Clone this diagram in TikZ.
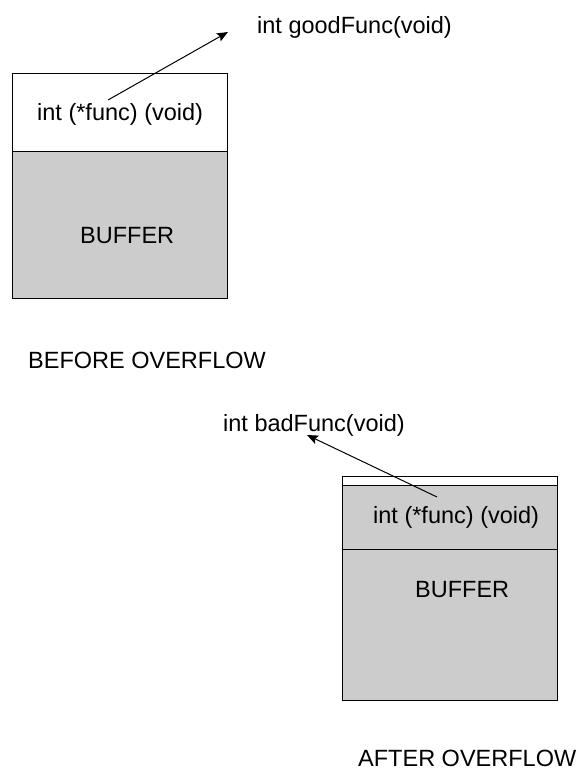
\documentclass[tikz,border=0pt]{standalone}
\usepackage{fontspec}
\setmainfont{Liberation Sans}
\usetikzlibrary{arrows.meta}
\definecolor{bufgray}{HTML}{CCCCCC}
\begin{document}
\begin{tikzpicture}[x=1pt,y=-1pt,
  cell/.style={draw=black, line width=1pt, rectangle, inner sep=0pt, anchor=north west},
  lbl/.style={anchor=base west, inner sep=0pt, font=\fontsize{23.5}{28}\selectfont},
  ptr/.style={draw=black, line width=1pt, -{Stealth[length=11pt,width=9pt,inset=2pt]}}]
\useasboundingbox (0,0) rectangle (580,771);
% before overflow
\node[cell, fill=white, minimum width=215pt, minimum height=78pt] (topptr) at (12,73) {};
\node[cell, fill=bufgray, minimum width=215pt, minimum height=147pt] (topbuf) at (12,151) {};
\node[lbl] (topptrtxt) at (37,120) {int (*func) (void)};
\node[lbl] (topbuftxt) at (80,243) {BUFFER};
\node[lbl] (good) at (257,33) {int goodFunc(void)};
\node[lbl] (before) at (28,368) {BEFORE OVERFLOW};
\coordinate (a1) at (108,100);
\coordinate (t1) at (228,32);
\draw[ptr] (a1) -- (t1);
% after overflow
\node[cell, fill=white, minimum width=215pt, minimum height=9pt] (botstrip) at (342,476) {};
\node[cell, fill=bufgray, minimum width=215pt, minimum height=64pt] (botptr) at (342,485) {};
\node[cell, fill=bufgray, minimum width=215pt, minimum height=151pt] (botbuf) at (342,549) {};
\node[lbl] (botptrtxt) at (373,523) {int (*func) (void)};
\node[lbl] (botbuftxt) at (415,597) {BUFFER};
\node[lbl] (bad) at (223,431) {int badFunc(void)};
\node[lbl] (after) at (358,766) {AFTER OVERFLOW};
\coordinate (a2) at (437,497);
\coordinate (t2) at (307,435);
\draw[ptr] (a2) -- (t2);
\end{tikzpicture}
\end{document}
